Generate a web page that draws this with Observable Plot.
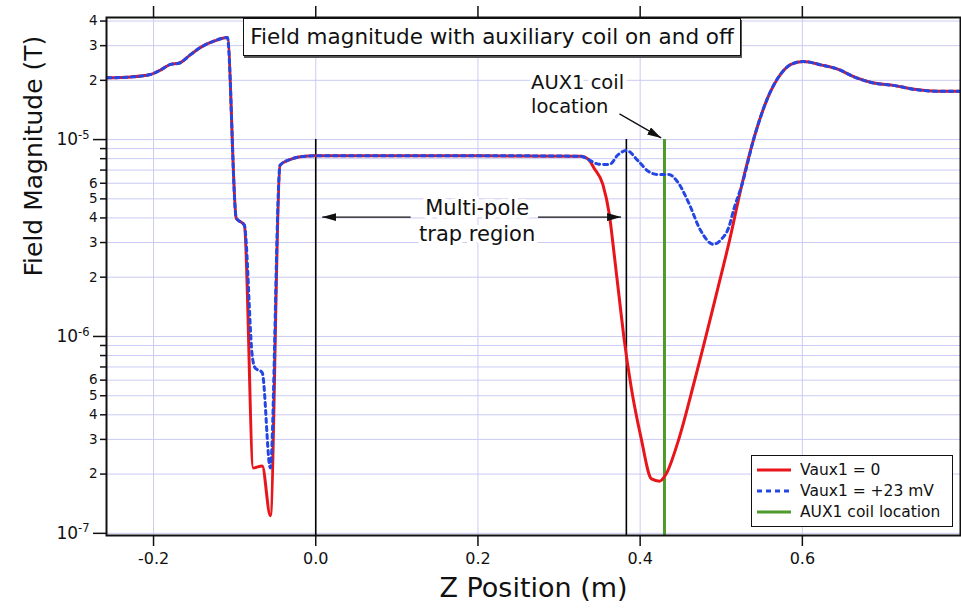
<!DOCTYPE html>
<html><head><meta charset="utf-8">
<script src="https://cdn.jsdelivr.net/npm/d3@7"></script>
<script src="https://cdn.jsdelivr.net/npm/@observablehq/plot@0.6"></script>
<style>
body{margin:0;background:#fff;font-family:"DejaVu Sans",sans-serif;}
#wrap{position:relative;width:961px;height:615px;}
#title{position:absolute;left:243px;top:18px;width:496px;height:36px;border:1.5px solid #111;box-shadow:1px 2px 0 #555;background:#fff;font-size:21.5px;line-height:36px;text-align:center;color:#111;white-space:nowrap;}
#legend{position:absolute;left:751px;top:455px;width:200px;height:70px;border:1.5px solid #111;background:#fff;font-size:15.5px;color:#111;}
.row{position:absolute;left:5px;height:20px;display:flex;align-items:center;white-space:nowrap;}
.row svg{margin-right:9px;}
</style></head><body><div id="wrap"></div>
<script>
// ---- data ----
const zRed = [-0.257,-0.228,-0.204,-0.191,-0.179,-0.169,-0.154,-0.142,-0.125,-0.109,-0.098,-0.088,-0.077,-0.066,-0.056,-0.044,-0.031,-0.019,0.0,0.1,0.2,0.327,0.336,0.343,0.354,0.362,0.368,0.374,0.380,0.389,0.401,0.414,0.424,0.432,0.447,0.467,0.496,0.510,0.525,0.541,0.557,0.574,0.586,0.601,0.624,0.646,0.664,0.685,0.714,0.738,0.768,0.794];
const bRed = [2.06e-5,2.08e-5,2.14e-5,2.26e-5,2.41e-5,2.44e-5,2.71e-5,2.94e-5,3.17e-5,3.30e-5,3.99e-6,3.67e-6,2.15e-7,2.20e-7,1.23e-7,7.41e-6,7.94e-6,8.18e-6,8.28e-6,8.28e-6,8.28e-6,8.23e-6,7.95e-6,7.18e-6,5.92e-6,4.17e-6,2.61e-6,1.60e-6,9.86e-7,5.50e-7,3.07e-7,1.89e-7,1.84e-7,2.00e-7,2.95e-7,5.94e-7,1.77e-6,3.05e-6,5.80e-6,1.04e-5,1.62e-5,2.17e-5,2.41e-5,2.49e-5,2.39e-5,2.26e-5,2.08e-5,1.95e-5,1.88e-5,1.80e-5,1.76e-5,1.76e-5];
const zBlue = [-0.257,-0.228,-0.204,-0.191,-0.179,-0.169,-0.154,-0.142,-0.125,-0.109,-0.098,-0.088,-0.078,-0.075,-0.066,-0.056,-0.044,-0.031,-0.019,0.0,0.1,0.2,0.327,0.336,0.349,0.362,0.373,0.383,0.398,0.410,0.422,0.435,0.447,0.459,0.475,0.490,0.500,0.509,0.516,0.525,0.541,0.557,0.574,0.586,0.601,0.624,0.646,0.664,0.685,0.714,0.738,0.768,0.794];
const bBlue = [2.06e-5,2.08e-5,2.14e-5,2.26e-5,2.41e-5,2.44e-5,2.71e-5,2.94e-5,3.17e-5,3.30e-5,3.99e-6,3.67e-6,7.78e-7,6.95e-7,6.55e-7,2.15e-7,7.41e-6,7.94e-6,8.18e-6,8.28e-6,8.28e-6,8.28e-6,8.23e-6,7.92e-6,7.50e-6,7.47e-6,8.39e-6,8.80e-6,7.76e-6,6.90e-6,6.65e-6,6.65e-6,6.03e-6,4.86e-6,3.43e-6,2.94e-6,3.11e-6,3.56e-6,4.50e-6,5.80e-6,1.04e-5,1.62e-5,2.17e-5,2.41e-5,2.49e-5,2.39e-5,2.26e-5,2.08e-5,1.95e-5,1.88e-5,1.80e-5,1.76e-5,1.76e-5];

const xTicks = [-0.2, 0.0, 0.2, 0.4, 0.6];
const yMajor = [1e-7, 1e-6, 1e-5];
const yMinor = [2e-7,3e-7,4e-7,5e-7,6e-7,7e-7,8e-7,9e-7,2e-6,3e-6,4e-6,5e-6,6e-6,7e-6,8e-6,9e-6,2e-5,3e-5,4e-5];
const trapBounds = [0.0, 0.383];
const coilPos = [0.43];
const arrowX1 = [0.117, 0.274, 0.3745];
const arrowX2 = [0.008, 0.3765, 0.4259];
const arrowY1 = [4.04e-6, 4.04e-6, 1.35e-5];
const arrowY2 = [4.04e-6, 4.04e-6, 1.02e-5];
const coilNote = ["AUX1 coil\nlocation"];
const coilNoteX = [0.2655], coilNoteY = [2.22e-5];
const trapNote = ["Multi-pole\ntrap region"];
const trapNoteX = [0.199], trapNoteY = [3.94e-6];
const legendLabels = ["Vaux1 = 0", "Vaux1 = +23 mV", "AUX1 coil location"];
const titleText = "Field magnitude with auxiliary coil on and off";
const xLabel = "Z Position (m)";
const yLabel = "Field Magnitude (T)";

const RED = "#e8151b", BLUE = "#2446e2", GREEN = "#4f9a2c", GRID = "#cbcbf4";
const yDomain = [0.975e-7, 4.17e-5];

const red = zRed.map((z, i) => ({z, b: bRed[i]}));
const blue = zBlue.map((z, i) => ({z, b: bBlue[i]}));
const arrows = arrowX1.map((x1, i) => ({x1, x2: arrowX2[i], y1: arrowY1[i], y2: arrowY2[i]}));
const coilData = coilNote.map((t, i) => ({t, x: coilNoteX[i], y: coilNoteY[i]}));
const trapData = trapNote.map((t, i) => ({t, x: trapNoteX[i], y: trapNoteY[i]}));

const mant = d => Math.round(d / Math.pow(10, Math.floor(Math.log10(d) + 1e-9)));

const svg = Plot.plot({
  width: 961, height: 615,
  marginLeft: 106, marginRight: 1, marginTop: 17, marginBottom: 80,
  style: {fontFamily: "DejaVu Sans", background: "#fff", color: "#111"},
  x: {domain: [-0.258, 0.795]},
  y: {type: "log", domain: yDomain},
  marks: [
    Plot.ruleY([...yMajor, ...yMinor], {stroke: GRID, strokeWidth: 1}),
    Plot.ruleX(xTicks, {stroke: GRID, strokeWidth: 1}),
    Plot.ruleX(trapBounds, {x: d => d, y1: 1e-5, y2: yDomain[0], stroke: "#000", strokeWidth: 1.6}),
    Plot.ruleX(coilPos, {x: d => d, y1: 1e-5, y2: yDomain[0], stroke: GREEN, strokeWidth: 3}),
    Plot.line(red, {x: "z", y: "b", stroke: RED, strokeWidth: 3, curve: "monotone-x"}),
    Plot.line(blue, {x: "z", y: "b", stroke: BLUE, strokeWidth: 3, strokeDasharray: "4,4", curve: "monotone-x"}),
    Plot.text(coilData, {x: "x", y: "y", text: "t", fontSize: 19.5, textAnchor: "start", lineAnchor: "top", lineHeight: 1.25, fill: "#111", stroke: "#fff", strokeWidth: 8}),
    Plot.text(trapData, {x: "x", y: "y", text: "t", fontSize: 21, textAnchor: "middle", lineAnchor: "middle", lineHeight: 1.25, fill: "#111", stroke: "#fff", strokeWidth: 8}),
    Plot.link(arrows, {x1: "x1", x2: "x2", y1: "y1", y2: "y2", stroke: "#111", strokeWidth: 1.3}),
    Plot.frame({stroke: "#111", strokeWidth: 2}),
    Plot.axisX(xTicks, {anchor: "bottom", tickSize: 11, tickPadding: 6, fontSize: 16, strokeWidth: 1.5, tickFormat: d => d.toFixed(1), label: null}),
    Plot.axisX(xTicks, {anchor: "top", tickSize: 12, strokeWidth: 1.5, tickFormat: () => "", label: null}),
    Plot.axisY(yMajor, {anchor: "left", tickSize: 13, tickPadding: 4, fontSize: 17, strokeWidth: 1.5, tickFormat: d => "10^" + Math.round(Math.log10(d)), label: null}),
    Plot.axisY(yMinor, {anchor: "left", tickSize: 6, tickPadding: 3, fontSize: 13.5, strokeWidth: 1.5, tickFormat: d => mant(d) <= 6 ? String(mant(d)) : "", label: null}),
    Plot.text([xLabel], {text: d => d, frameAnchor: "bottom", dy: 61, fontSize: 27, fill: "#111"}),
    Plot.text([yLabel], {text: d => d, frameAnchor: "left", dx: -73, rotate: -90, fontSize: 25, fill: "#111"})
  ]
});

// superscript exponents on the decade labels
const NS = "http://www.w3.org/2000/svg";
svg.querySelectorAll("text").forEach(t => {
  const m = t.textContent.match(/^10\^(-?\d+)$/);
  if (m) {
    t.textContent = "10";
    const ts = document.createElementNS(NS, "tspan");
    ts.setAttribute("dy", "-0.55em");
    ts.setAttribute("font-size", "11.5");
    ts.textContent = m[1];
    t.appendChild(ts);
  }
});
// filled arrowheads
const defs = document.createElementNS(NS, "defs");
defs.innerHTML = '<marker id="ahead" viewBox="0 0 14 8" refX="14" refY="4" markerWidth="14" markerHeight="8" markerUnits="userSpaceOnUse" orient="auto"><path d="M0,0L14,4L0,8z" fill="#111"/></marker>';
svg.insertBefore(defs, svg.firstChild);
svg.querySelectorAll('g[aria-label="link"] path').forEach(p => p.setAttribute("marker-end", "url(#ahead)"));

const wrap = document.getElementById("wrap");
wrap.appendChild(svg);

const title = document.createElement("div");
title.id = "title";
title.textContent = titleText;
wrap.appendChild(title);

const legend = document.createElement("div");
legend.id = "legend";
const swatches = [{c: RED, dash: null}, {c: BLUE, dash: "5,4"}, {c: GREEN, dash: null}];
legendLabels.forEach((lab, i) => {
  const row = document.createElement("div");
  row.className = "row";
  row.style.top = [4, 25, 46][i] + "px";
  const s = swatches[i];
  row.innerHTML = `<svg width="34" height="6"><line x1="0" y1="3" x2="34" y2="3" stroke="${s.c}" stroke-width="3" ${s.dash ? `stroke-dasharray="${s.dash}"` : ""}/></svg><span>${lab}</span>`;
  legend.appendChild(row);
});
wrap.appendChild(legend);
</script>
</body></html>
